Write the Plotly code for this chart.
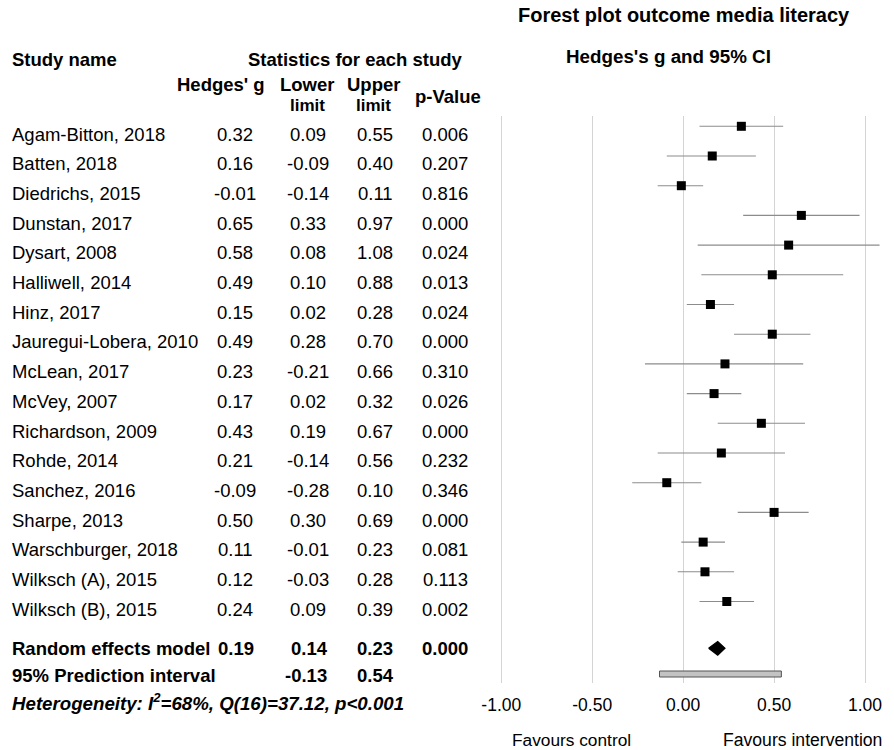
import plotly.graph_objects as go

# ---------------- data ----------------
studies = ["Agam-Bitton, 2018", "Batten, 2018", "Diedrichs, 2015", "Dunstan, 2017",
           "Dysart, 2008", "Halliwell, 2014", "Hinz, 2017", "Jauregui-Lobera, 2010",
           "McLean, 2017", "McVey, 2007", "Richardson, 2009", "Rohde, 2014",
           "Sanchez, 2016", "Sharpe, 2013", "Warschburger, 2018", "Wilksch (A), 2015",
           "Wilksch (B), 2015"]
hedges_g = [0.32, 0.16, -0.01, 0.65, 0.58, 0.49, 0.15, 0.49, 0.23, 0.17, 0.43, 0.21,
            -0.09, 0.50, 0.11, 0.12, 0.24]
lower = [0.09, -0.09, -0.14, 0.33, 0.08, 0.10, 0.02, 0.28, -0.21, 0.02, 0.19, -0.14,
         -0.28, 0.30, -0.01, -0.03, 0.09]
upper = [0.55, 0.40, 0.11, 0.97, 1.08, 0.88, 0.28, 0.70, 0.66, 0.32, 0.67, 0.56,
         0.10, 0.69, 0.23, 0.28, 0.39]
p_values = [0.006, 0.207, 0.816, 0.000, 0.024, 0.013, 0.024, 0.000, 0.310, 0.026,
            0.000, 0.232, 0.346, 0.000, 0.081, 0.113, 0.002]
summary_g, summary_lower, summary_upper, summary_p = 0.19, 0.14, 0.23, 0.000
pi_lower, pi_upper = -0.13, 0.54
tick_values = [-1.0, -0.5, 0.0, 0.5, 1.0]
tick_labels = ["-1.00", "-0.50", "0.00", "0.50", "1.00"]
heterogeneity = "Heterogeneity: I<sup>2</sup>=68%, Q(16)=37.12, p&lt;0.001"

# ---------------- layout helpers ----------------
W, H = 894, 750
L, R, T, B = 480, 0, 116, 67
PW, PH = W - L - R, H - T - B
ROW0, ROWH = 126.3, 29.7          # pixel of first row centre, row height


def px(p):
    return (p - L) / PW


def py(p):
    return (H - B - p) / PH


def prow(p):
    return (p - ROW0) / ROWH


FONT = "Arial, Liberation Sans, sans-serif"
n = len(studies)
rows = list(range(n))
summary_row = prow(648.3)
pi_row = prow(674.0)

fig = go.Figure()

# study estimates with CI
fig.add_trace(go.Scatter(
    x=hedges_g, y=rows, mode="markers",
    marker=dict(symbol="square", size=9, color="black"),
    error_x=dict(type="data", symmetric=False,
                 array=[u - g for u, g in zip(upper, hedges_g)],
                 arrayminus=[g - lo for g, lo in zip(hedges_g, lower)],
                 color="#8c8c8c", thickness=1.1, width=0),
    hoverinfo="skip", showlegend=False))

# summary diamond
dh = 6.8 / ROWH
fig.add_trace(go.Scatter(
    x=[summary_lower, summary_g, summary_upper, summary_g, summary_lower],
    y=[summary_row, summary_row - dh, summary_row, summary_row + dh, summary_row],
    mode="lines", fill="toself", fillcolor="black",
    line=dict(color="black", width=1.2), hoverinfo="skip", showlegend=False))

# prediction interval bar
ph = 3.0 / ROWH
fig.add_shape(type="rect", xref="x", yref="y",
              x0=pi_lower, x1=pi_upper, y0=pi_row - ph, y1=pi_row + ph,
              fillcolor="#c3c3c3", line=dict(color="#555555", width=1))

ann = []


def text(x, y, s, size=18.5, bold=False, italic=False, anchor="center", yref="paper", color="black"):
    if bold:
        s = f"<b>{s}</b>"
    if italic:
        s = f"<i>{s}</i>"
    ann.append(dict(x=x, y=y, xref="paper", yref=yref, text=s, showarrow=False,
                    xanchor=anchor, yanchor="middle",
                    font=dict(family=FONT, size=size, color=color)))


# titles
text(px(683.5), py(15), "Forest plot outcome media literacy", size=20, bold=True)
text(px(668.5), py(57), "Hedges's g and 95% CI", size=18.8, bold=True)

# table headers
text(px(10), py(59), "Study name", bold=True, anchor="left")
text(px(355), py(59), "Statistics for each study", bold=True)
text(px(221), py(85), "Hedges' g", bold=True)
text(px(307), py(85), "Lower", bold=True)
text(px(307), py(106), "limit", bold=True, size=17)
text(px(373.5), py(85), "Upper", bold=True)
text(px(373.5), py(106), "limit", bold=True, size=17)
text(px(448), py(96), "p-Value", bold=True)

COLS = [235, 308, 375, 445]
TOFF = 7.7 / ROWH
for i in rows:
    yy = i + TOFF
    text(px(10), yy, studies[i], anchor="left", yref="y")
    text(px(COLS[0]), yy, f"{hedges_g[i]:.2f}", yref="y")
    text(px(COLS[1]), yy, f"{lower[i]:.2f}", yref="y")
    text(px(COLS[2]), yy, f"{upper[i]:.2f}", yref="y")
    text(px(COLS[3]), yy, f"{p_values[i]:.3f}", yref="y")

text(px(10), py(648), "Random effects model", bold=True, anchor="left")
text(px(236), py(648), f"{summary_g:.2f}", bold=True)
text(px(309), py(648), f"{summary_lower:.2f}", bold=True)
text(px(375), py(648), f"{summary_upper:.2f}", bold=True)
text(px(445), py(648), f"{summary_p:.3f}", bold=True)
text(px(10), py(675), "95% Prediction interval", bold=True, anchor="left")
text(px(306), py(675), f"{pi_lower:.2f}", bold=True)
text(px(375), py(675), f"{pi_upper:.2f}", bold=True)
text(px(10), py(702), heterogeneity, bold=True, italic=True, anchor="left", size=18.7)

text(px(571), py(740), "Favours control", size=17.3)
text(px(802), py(740), "Favours intervention", size=17.6)

fig.update_layout(
    width=W, height=H,
    margin=dict(l=L, r=R, t=T, b=B, pad=0),
    paper_bgcolor="white", plot_bgcolor="white",
    annotations=ann,
    xaxis=dict(range=[-1 - (L - 480 + 21.3) / 182, 1 + 29 / 182],
               tickvals=tick_values, ticktext=tick_labels,
               showgrid=True, gridcolor="#d4d4d4", gridwidth=1.2,
               zeroline=False, showline=False,
               ticks="outside", ticklen=6, tickcolor="rgba(0,0,0,0)",
               tickfont=dict(family=FONT, size=17.5, color="black"),
               fixedrange=True),
    yaxis=dict(range=[prow(H - B), prow(T)], visible=False, fixedrange=True),
)

fig.write_html("out.html", config={"displayModeBar": False},
               post_script="document.body.style.margin='0';document.body.style.overflow='hidden';")
